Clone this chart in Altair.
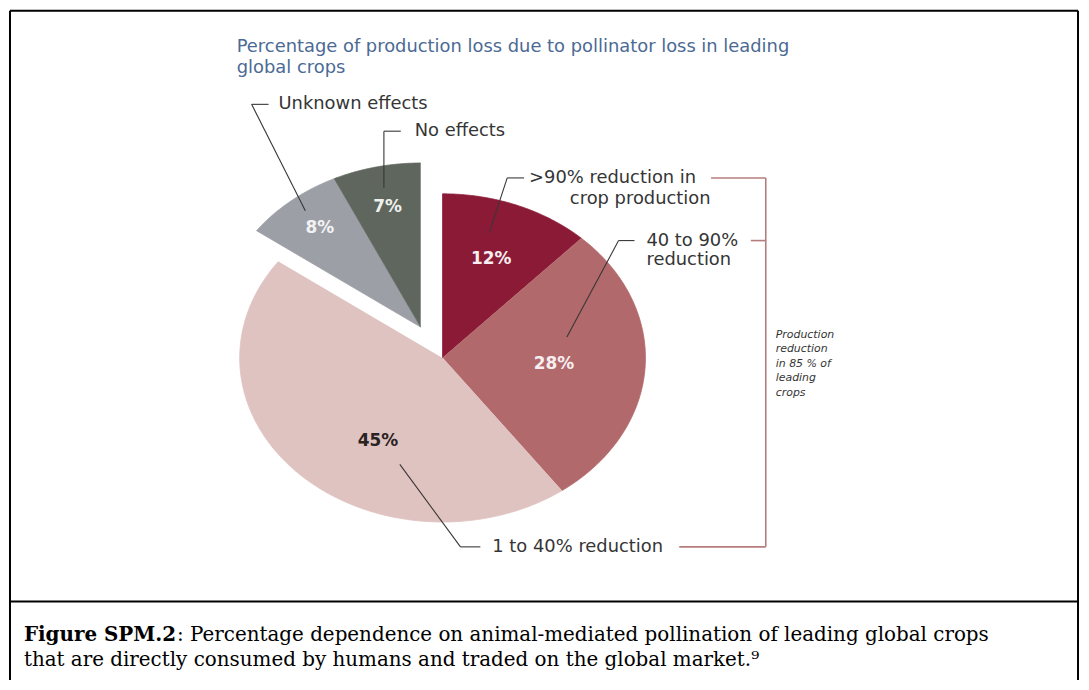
import altair as alt
import pandas as pd

# ---------------- data ----------------
categories = [">90% reduction in crop production", "40 to 90% reduction",
              "1 to 40% reduction", "Unknown effects", "No effects"]
shares = [12, 28, 45, 8, 7]
share_labels = ["12%", "28%", "45%", "8%", "7%"]

title_lines = ["Percentage of production loss due to pollinator loss in leading",
               "global crops"]
callout_texts = ["Unknown effects", "No effects", ">90% reduction in", "crop production",
                 "40 to 90%", "reduction", "1 to 40% reduction"]
note_lines = ["Production", "reduction", "in 85 % of", "leading", "crops"]
caption_bold = "Figure SPM.2"
caption_line1 = ": Percentage dependence on animal-mediated pollination of leading global crops"
caption_line2 = "that are directly consumed by humans and traded on the global market.\u2079"

# ---------------- layout / style (page pixel coordinates) ----------------
W, H = 1079, 672
OFF = 8
CX, CY = 445 - OFF, 358 - OFF
RX, RY = 204, 165
EXPLODE = {"Unknown effects": (-22, -31), "No effects": (-22, -31)}
SLICE_COLORS = ["#8b1a37", "#b2696c", "#dfc3c1", "#9c9fa6", "#5f665d"]
LABEL_COLORS = ["#f6eef0", "#f6eef0", "#2b2222", "#f2f2f4", "#eef0ee"]
LABEL_PLACE = [(0.65, 0.0), (0.55, 0.0), (0.6, -3.6), (0.78, 0.0), (0.75, 0.0)]
NSTEP = 120

TITLE_POS = [(238, 45), (238, 66)]
CALLOUT_POS = [(280, 103), (417, 130), (532, 177), (573, 198), (650, 240), (650, 260), (495, 548)]
NOTE_X, NOTE_Y0, NOTE_DY = 780, 335, 14.5
LEADERS = [((270, 103), (253, 103)), ((253, 103), (307, 210)),
           ((403, 130), (386, 130)), ((386, 130), (386, 187)),
           ((527, 177), (510, 177)), ((510, 177), (492, 232)),
           ((638, 240), (622, 240)), ((622, 240), (570, 337)),
           ((483, 548), (463, 548)), ((463, 548), (402, 465))]
BRACKET = [((715, 177), (770, 177)), ((755, 240), (770, 240)),
           ((683, 548), (770, 548)), ((770, 177), (770, 548))]
FRAME = [((10, 9), (10, 690)), ((10, 9), (1084, 9)), ((1084, 9), (1084, 690)),
         ((10, 603), (1084, 603))]
CAP_X, CAP_Y1, CAP_Y2, CAP_BOLD_W, CAP_SIZE = 24, 643, 668, 154, 20

XS = alt.Scale(domain=[0, W], nice=False, zero=False)
YS = alt.Scale(domain=[H, 0], nice=False, zero=False)


def enc_xy(xf="px", yf="py"):
    return dict(x=alt.X(f"{xf}:Q", scale=XS, axis=None),
                y=alt.Y(f"{yf}:Q", scale=YS, axis=None))


# ---------------- pie (elliptical, from the shares) ----------------
pie_df = pd.DataFrame({
    "cat": categories, "share": shares, "label": share_labels, "k": list(range(len(categories))),
    "dx": [EXPLODE.get(c, (0, 0))[0] for c in categories],
    "dy": [EXPLODE.get(c, (0, 0))[1] for c in categories],
    "lf": [p[0] for p in LABEL_PLACE],
    "ln": [p[1] for p in LABEL_PLACE],
})

base = (alt.Chart(pie_df)
        .transform_joinaggregate(total="sum(share)")
        .transform_window(cum="sum(share)", sort=[alt.SortField("k", order="ascending")],
                          frame=[None, 0])
        .transform_calculate(start="datum.cum - datum.share"))

slices = (base
          .transform_calculate(seq=f"sequence(0, {NSTEP + 2})")
          .transform_flatten(["seq"], as_=["i"])
          .transform_calculate(
              a=f"2*PI*(datum.start + (datum.i - 1) / {NSTEP} * datum.share) / datum.total")
          .transform_calculate(
              px=f"datum.i == 0 ? {CX} + datum.dx : {CX} + datum.dx + {RX} * sin(datum.a)",
              py=f"datum.i == 0 ? {CY} + datum.dy : {CY} + datum.dy - {RY} * cos(datum.a)"))

layers = []
for idx, c in enumerate(categories):
    layers.append(
        slices.transform_filter(alt.datum.cat == c)
        .mark_line(fill=SLICE_COLORS[idx], stroke=SLICE_COLORS[idx], strokeWidth=0.8,
                   strokeJoin="round")
        .encode(order=alt.Order("i:Q"), **enc_xy())
    )

labels = (base
          .transform_calculate(
              am="2*PI*(datum.start + datum.share/2 + datum.ln) / datum.total")
          .transform_calculate(
              px=f"{CX} + datum.dx + {RX} * datum.lf * sin(datum.am)",
              py=f"{CY} + datum.dy - {RY} * datum.lf * cos(datum.am)")
          .mark_text(font="DejaVu Sans", fontWeight="bold", fontSize=17,
                     align="center", baseline="middle")
          .encode(text="label:N",
                  color=alt.Color("cat:N", scale=alt.Scale(domain=categories, range=LABEL_COLORS),
                                  legend=None),
                  **enc_xy()))
layers.append(labels)


# ---------------- lines ----------------
def seg_df(segs):
    return pd.DataFrame({
        "px": [s[0][0] - OFF for s in segs], "py": [s[0][1] - OFF for s in segs],
        "px2": [s[1][0] - OFF for s in segs], "py2": [s[1][1] - OFF for s in segs]})


def rules(segs, color, width):
    return (alt.Chart(seg_df(segs)).mark_rule(color=color, strokeWidth=width)
            .encode(x2="px2:Q", y2="py2:Q", **enc_xy()))


layers.append(rules(LEADERS, "#3a3636", 1.1))
layers.append(rules(BRACKET, "#b47c7c", 1.6))
layers.append(rules(FRAME, "#000000", 2))


# ---------------- texts ----------------
def texts(lines, pos, baseline="middle", **style):
    df = pd.DataFrame({"t": lines, "px": [p[0] - OFF for p in pos], "py": [p[1] - OFF for p in pos]})
    return (alt.Chart(df).mark_text(align="left", baseline=baseline, **style)
            .encode(text="t:N", **enc_xy()))


layers.append(texts(title_lines, TITLE_POS, font="DejaVu Sans", fontSize=18, color="#4b6a94"))
layers.append(texts(callout_texts, CALLOUT_POS, font="DejaVu Sans", fontSize=18, color="#353535"))
layers.append(texts(note_lines, [(NOTE_X, NOTE_Y0 + i * NOTE_DY) for i in range(len(note_lines))],
                    font="DejaVu Sans", fontSize=11, fontStyle="italic", color="#353535"))
layers.append(texts([caption_bold], [(CAP_X, CAP_Y1)], baseline="alphabetic", font="DejaVu Serif",
                    fontSize=CAP_SIZE, fontWeight="bold", color="#000000"))
layers.append(texts([caption_line1, caption_line2], [(CAP_X + CAP_BOLD_W, CAP_Y1), (CAP_X, CAP_Y2)],
                    baseline="alphabetic", font="DejaVu Serif", fontSize=CAP_SIZE, color="#000000"))

chart = (alt.layer(*layers)
         .properties(width=W, height=H, padding=0, autosize=alt.AutoSizeParams(type="none"),
                     background="white")
         .configure_view(strokeWidth=0))

chart.save("out.html", embed_options={"renderer": "svg", "actions": False})
